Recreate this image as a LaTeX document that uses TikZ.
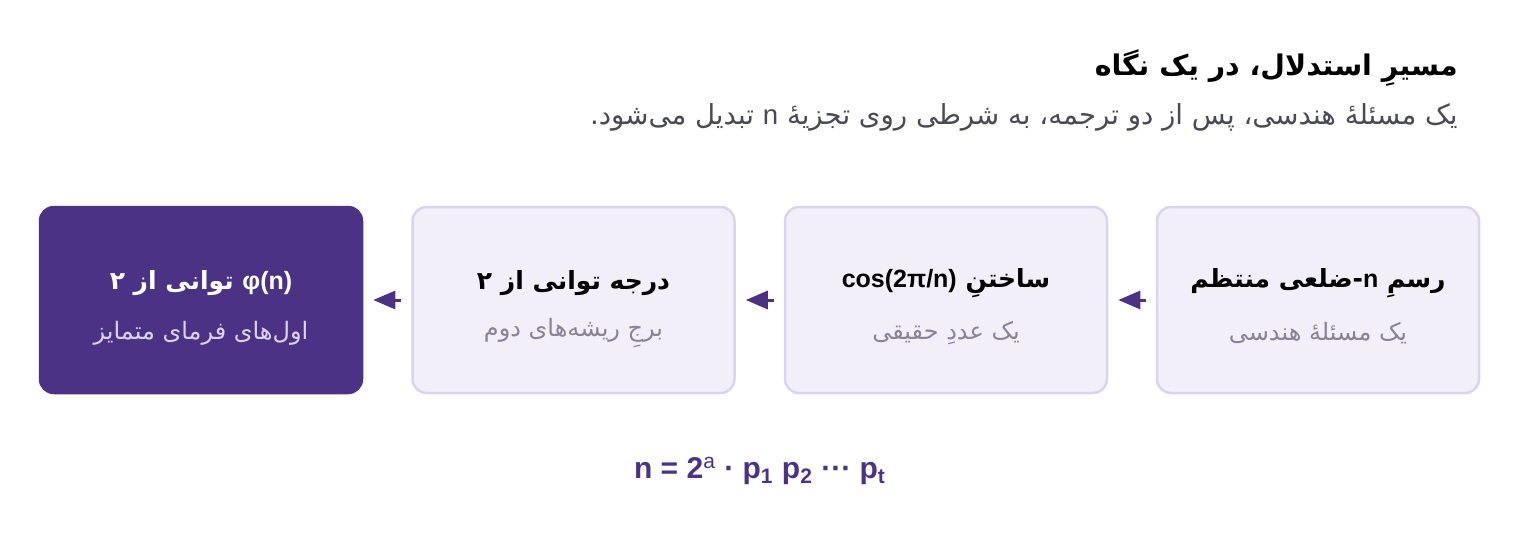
\documentclass[tikz,border=0pt]{standalone}
\usepackage{fontspec}
\setmainfont{Liberation Sans}
\newfontfamily\arabicfont[Script=Arabic]{DejaVu Sans}
\newfontfamily\latinfont{Liberation Sans}
\TeXXeTstate=1
\usetikzlibrary{arrows.meta, positioning}

\definecolor{stagefill}{HTML}{F2EFF9}
\definecolor{stageline}{HTML}{DAD4EC}
\definecolor{deeppurple}{HTML}{4B3284}
\definecolor{softgray}{HTML}{8A8398}
\definecolor{leadgray}{HTML}{4A4A55}
\definecolor{palelilac}{HTML}{DCD3F0}

\begin{document}
\begin{tikzpicture}[x=0.5pt, y=-0.5pt,
    stage/.style={draw=stageline, fill=stagefill, line width=1.25pt, rounded corners=7pt, minimum width=161pt, minimum height=93pt, inner sep=0pt},
    stagetitle/.style={text=black, font=\arabicfont\bfseries\fontsize{12.5}{15}\selectfont},
    stagenote/.style={text=softgray, font=\arabicfont\fontsize{12}{15}\selectfont},
    flow/.style={draw=deeppurple, line width=1.5pt, -{Triangle[length=11pt, width=9pt]}, shorten >=5pt, shorten <=5pt}]
\useasboundingbox (0,0) rectangle (1520,536);

\node[anchor=east, inner sep=0pt, text=black, font=\arabicfont\bfseries\fontsize{14.2}{17}\selectfont] (heading) at (1458,68) {\beginR مسیرِ استدلال، در یک نگاه\endR};
\node[anchor=east, inner sep=0pt, text=leadgray, font=\arabicfont\fontsize{13.8}{16}\selectfont] (lead) at (1458,117) {\beginR یک مسئلهٔ هندسی، پس از دو ترجمه، به شرطی روی تجزیهٔ \beginL{\latinfont n}\endL{} تبدیل می‌شود.\endR};

\node[stage] (polygon) at (1318,300) {};
\node[stagetitle] (polygontitle) at (1318,283) {\beginR رسمِ \beginL{\latinfont n}\endL-ضلعی منتظم\endR};
\node[stagenote] (polygonnote) at (1318,333) {\beginR یک مسئلهٔ هندسی\endR};

\node[stage] (cosine) at (946,300) {};
\node[stagetitle] (cosinetitle) at (946,283) {\beginR ساختنِ \beginL{\latinfont cos(2π/n)}\endL\endR};
\node[stagenote] (cosinenote) at (946,333) {\beginR یک عددِ حقیقی\endR};

\node[stage] (degree) at (573.5,300) {};
\node[stagetitle] (degreetitle) at (573.5,283) {\beginR درجه توانی از ۲\endR};
\node[stagenote] (degreenote) at (573.5,333) {\beginR برجِ ریشه‌های دوم\endR};

\node[stage, draw=deeppurple, fill=deeppurple] (fermat) at (201,300) {};
\node[stagetitle, text=white] (fermattitle) at (201,283) {\beginR \beginL{\latinfont φ(n)}\endL{} توانی از ۲\endR};
\node[stagenote, text=palelilac] (fermatnote) at (201,333) {\beginR اول‌های فرمای متمایز\endR};

\draw[flow] (polygon.west) -- (cosine.east);
\draw[flow] (cosine.west) -- (degree.east);
\draw[flow] (degree.west) -- (fermat.east);

\node[text=deeppurple, font=\bfseries\fontsize{15}{18}\selectfont] (formula) at (760,471) {n = 2\textsuperscript{\mdseries a} · p\textsubscript{1} p\textsubscript{2} ··· p\textsubscript{t}};

\end{tikzpicture}
\end{document}
